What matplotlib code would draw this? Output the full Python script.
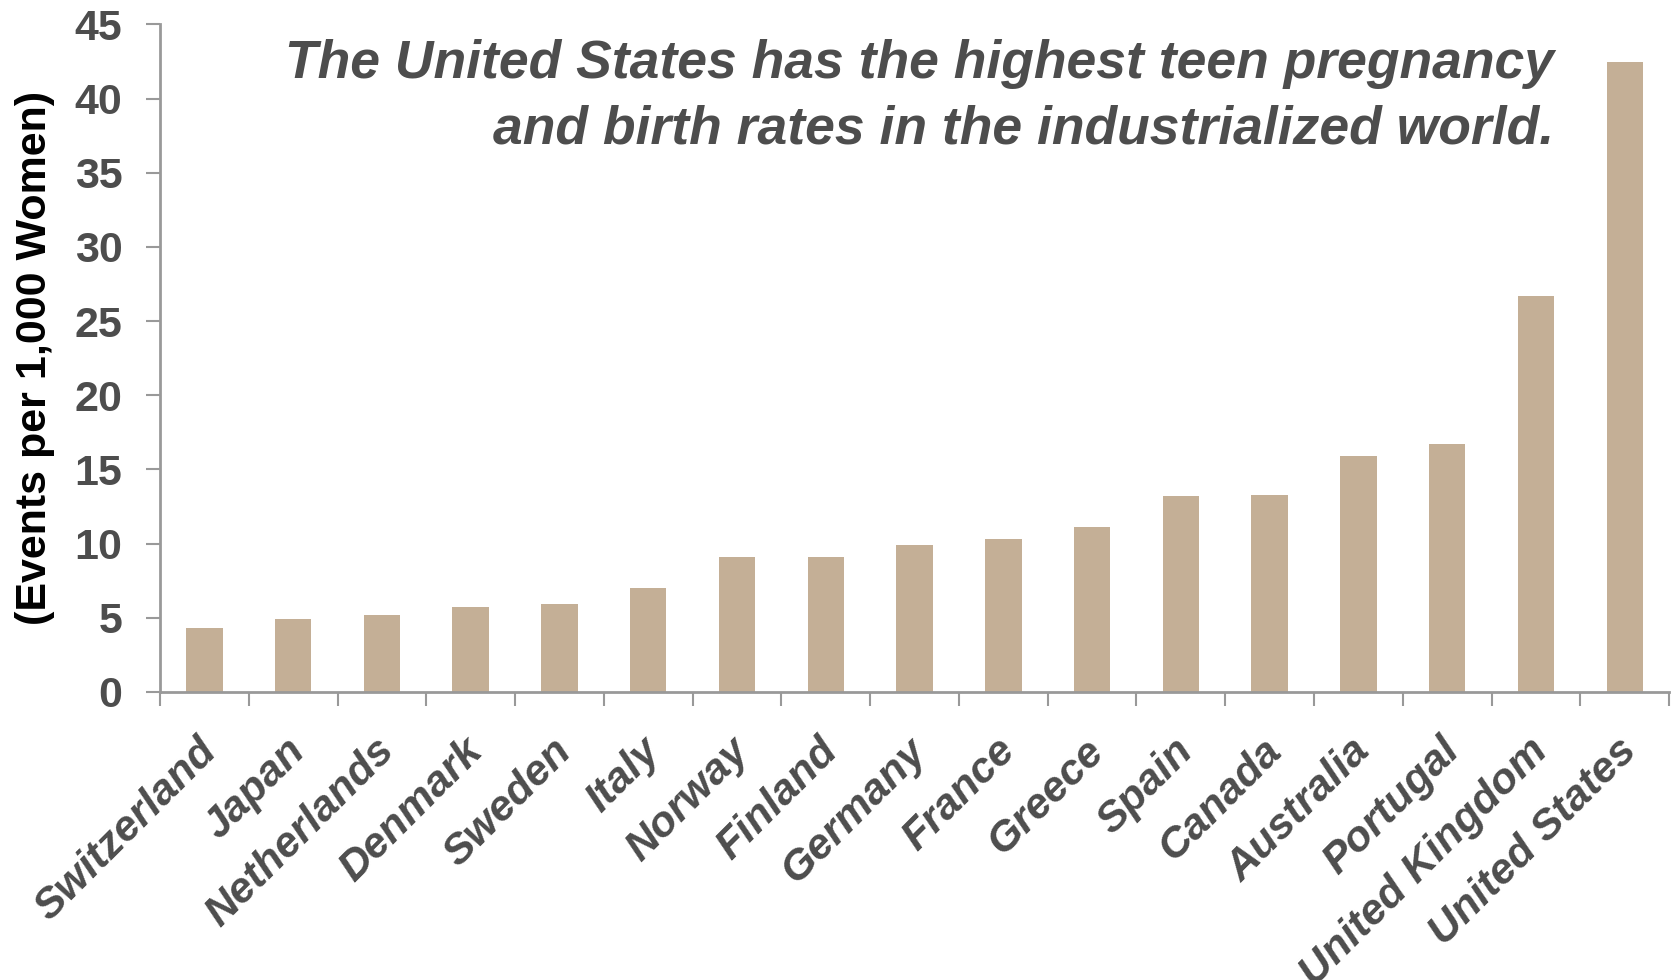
import matplotlib.pyplot as plt
import matplotlib.transforms as mtransforms
import numpy as np

countries = ["Switzerland", "Japan", "Netherlands", "Denmark", "Sweden", "Italy",
             "Norway", "Finland", "Germany", "France", "Greece", "Spain", "Canada",
             "Australia", "Portugal", "United Kingdom", "United States"]
rates = [4.3, 4.9, 5.2, 5.7, 5.9, 7.0, 9.1, 9.1, 9.9, 10.3, 11.1, 13.2, 13.3,
         15.9, 16.7, 26.7, 42.5]
yticks = [0, 5, 10, 15, 20, 25, 30, 35, 40, 45]

bar_color = "#C4AF96"
text_gray = "#4D4D4D"
axis_gray = "#999999"

plt.rcParams['font.family'] = ['Liberation Sans', 'DejaVu Sans']

fig = plt.figure(figsize=(16.75, 9.8), dpi=100)
ax = fig.add_axes([0.0955, 0.294, 0.901, 0.681])

x = np.arange(len(countries))
ax.bar(x, rates, width=0.41, color=bar_color)

ax.set_xlim(-0.5, len(countries) - 0.5)
ax.set_ylim(0, 45)
ax.set_yticks(yticks)
ax.set_yticklabels([str(v) for v in yticks], fontsize=31, fontweight='bold', color=text_gray)
ax.tick_params(axis='y', length=10, width=1.5, color=axis_gray, pad=17)

ax.set_xticks(x)
ax.set_xticklabels(countries, rotation=45, ha='right', rotation_mode='anchor',
                   fontsize=31, fontweight='bold', fontstyle='italic', color=text_gray)
ax.tick_params(axis='x', which='major', length=0, pad=28)
ax.set_xticks(np.arange(-0.5, len(countries)), minor=True)
ax.tick_params(axis='x', which='minor', length=10, width=1.5, color=axis_gray)

# nudge the slanted labels a bit left, like the original
shift = mtransforms.ScaledTranslation(-0.08, 0, fig.dpi_scale_trans)
for lbl in ax.get_xticklabels():
    lbl.set_transform(lbl.get_transform() + shift)

for side in ['top', 'right']:
    ax.spines[side].set_visible(False)
for side in ['left', 'bottom']:
    ax.spines[side].set_color(axis_gray)
    ax.spines[side].set_linewidth(2)

ax.set_ylabel("(Events per 1,000 Women)", fontsize=31, fontweight='bold', color='black', labelpad=14)

ax.text(0.924, 0.978, "The United States has the highest teen pregnancy\nand birth rates in the industrialized world.",
        transform=ax.transAxes, ha='right', va='top', fontsize=38.5, fontweight='bold',
        fontstyle='italic', color=text_gray, linespacing=1.4)

fig.savefig("out.png", dpi=100)
